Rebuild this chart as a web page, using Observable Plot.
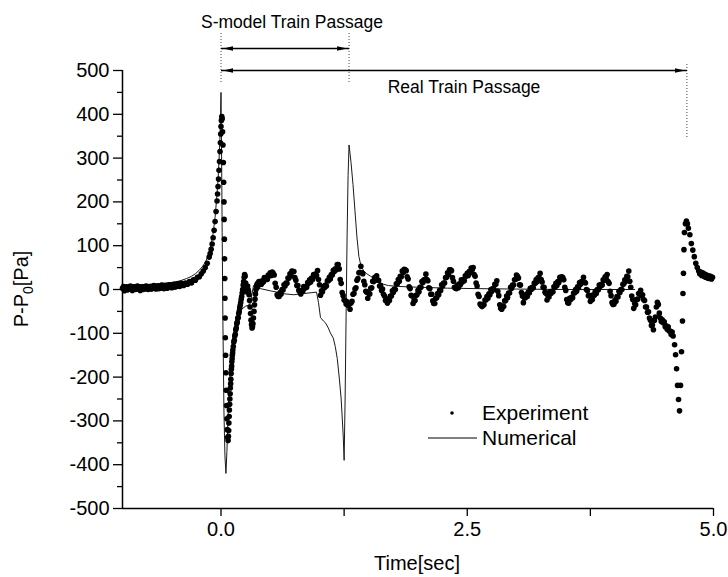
<!DOCTYPE html>
<html><head><meta charset="utf-8">
<script src="https://cdn.jsdelivr.net/npm/d3@7"></script>
<script src="https://cdn.jsdelivr.net/npm/@observablehq/plot@0.6"></script>
<style>body{margin:0;background:#fff}</style>
</head><body><div id="chart"></div>
<script>
// ---- data: time [s], P-P0 [Pa] ----
// Experiment, before and around the train-nose passage: [time, pressure]
const expEarly = [
[-1.00,3],[-0.99,7],[-0.98,-3],[-0.97,4],[-0.96,6],[-0.95,-1],[-0.94,0],[-0.93,6],[-0.92,8],[-0.91,2],[-0.90,-2],[-0.89,6],
[-0.88,5],[-0.87,0],[-0.86,1],[-0.85,8],[-0.84,7],[-0.83,1],[-0.82,-2],[-0.81,5],[-0.80,6],[-0.79,0],[-0.78,1],[-0.77,7],
[-0.76,8],[-0.75,2],[-0.74,0],[-0.73,6],[-0.72,7],[-0.71,1],[-0.70,2],[-0.69,8],[-0.68,9],[-0.67,3],[-0.66,1],[-0.65,7],
[-0.64,8],[-0.63,2],[-0.62,3],[-0.61,9],[-0.60,10],[-0.59,4],[-0.58,2],[-0.57,8],[-0.56,9],[-0.55,3],[-0.54,4],[-0.53,10],
[-0.52,11],[-0.51,5],[-0.50,4],[-0.49,10],[-0.48,12],[-0.47,6],[-0.46,6],[-0.45,12],[-0.44,13],[-0.43,8],[-0.42,7],[-0.41,13],
[-0.40,14],[-0.38,9],[-0.36,15],[-0.34,12],[-0.32,18],[-0.30,15],[-0.28,22],[-0.26,21],[-0.24,28],[-0.22,29],
[-0.20,36],[-0.18,42],[-0.16,50],[-0.14,60],[-0.12,74],[-0.11,82],[-0.10,92],[-0.09,104],[-0.08,118],[-0.07,135],
[-0.06,155],[-0.05,178],[-0.04,202],[-0.035,218],[-0.03,235],[-0.025,252],[-0.02,272],[-0.015,292],[-0.01,315],[-0.006,335],
[-0.003,355],[0.0,372],[0.004,386],[0.008,395],[0.012,390],[0.016,360],[0.02,330],[0.024,290],[0.027,245],[0.03,200],
[0.032,160],[0.034,115],[0.036,70],[0.038,25],[0.04,-20],[0.042,-65],[0.044,-110],[0.047,-150],[0.05,-190],[0.053,-230],
[0.056,-265],[0.06,-295],[0.064,-320],[0.068,-338],[0.072,-345],[0.075,-335],[0.078,-322],[0.08,-305],[0.083,-290],[0.085,-275],
[0.088,-262],[0.09,-250],[0.093,-238],[0.095,-225],[0.098,-215],[0.10,-205],[0.103,-192],[0.105,-182],[0.108,-175],[0.11,-165],
[0.113,-158],[0.115,-150],[0.118,-145],[0.12,-138],[0.125,-130],[0.13,-120],[0.135,-116],[0.14,-106],[0.145,-102],[0.15,-92],
[0.155,-88],[0.16,-78],[0.165,-75],[0.17,-66],[0.175,-64],[0.18,-55],[0.185,-50],[0.19,-42],[0.195,-36],[0.20,-30],
[0.205,-22],[0.21,-16],[0.215,-8],[0.22,0],[0.225,10],[0.23,18],[0.235,28],[0.24,34],[0.245,30],[0.25,15],
[0.255,5],[0.26,-5],[0.265,0],[0.27,8],[0.275,0],[0.28,-5],[0.285,-12],[0.29,-25],[0.295,-40],[0.30,-55],
[0.305,-70],[0.31,-80],[0.315,-88],[0.32,-85],[0.325,-78],[0.33,-65],[0.335,-50],[0.34,-35],[0.345,-22],[0.35,-10],
[0.355,0],[0.36,8],[0.365,12],[0.37,5],[0.375,15],[0.38,10],[0.385,18],[0.39,12],[0.395,16]
];
// Experiment, evenly sampled stretch during the passage (start 0.40 s, every 0.01 s)
const expDenseStart = 0.40, expDenseStep = 0.01;
const expDense = [
18,12,20,17,27,22,26,23,33,31, 38,32,40,37,33,14,5,-12,-16,-16,
-7,-10,0,-1,11,8,15,14,26,26, 36,32,42,41,41,27,21,9,9,-2,
-5,-10,-2,-4,7,3,7,5,16,14, 22,17,26,23,34,30,35,32,43,23,
11,-13,-3,-5,7,4,10,8,20,20, 28,24,34,33,44,41,47,45,57,57,
47,23,14,-7,-14,-24,-25,-33,-28,-36, -34,-45,-31,-27,-11,-9,1,4,21,25,
38,39,53,38,36,19,11,-4,-6,-20, -9,-10,3,4,19,18,27,28,31,21,
21,8,9,-2,1,-11,-15,-25,-22,-31, -22,-25,-15,-15,-3,-6,1,0,13,13,
23,19,30,29,42,39,46,45,43,29, 24,6,2,-13,-15,-32,-25,-25,-13,-12,
-2,-5,5,5,18,16,22,22,35,23, 20,4,2,-11,-11,-26,-32,-32,-20,-19,
-9,-12,-2,-2,11,8,15,15,27,28, 38,35,45,45,43,27,19,5,3,2,
10,4,13,11,22,17,22,20,31,30, 37,32,41,39,49,45,50,34,30,15,
8,-11,-16,-33,-36,-39,-34,-35,-24,-24, -16,-20,-10,-12,0,-4,2,1,12,12,
20,-4,-14,-35,-43,-45,-38,-39,-26,-25, -15,-18,-8,-8,5,3,10,10,22,23,
33,30,26,11,10,-7,-15,-30,-19,-19, -11,-16,-6,-8,3,0,5,4,15,14,
23,18,27,26,37,23,17,5,5,-6, -9,-24,-15,-17,-5,-9,-4,-5,6,5,
14,9,18,16,28,24,29,27,22,5, -2,-23,-30,-31,-20,-23,-18,-19,-8,-8,
0,-4,6,4,16,12,18,16,28,17, 15,0,-2,-14,-13,-27,-22,-23,-12,-13,
-4,-9,0,-1,10,7,12,10,22,21, 29,25,34,18,14,-4,-14,-30,-34,-33,
-24,-27,-16,-17,-4,-7,0,0,12,13, 22,19,30,29,42,19,5,-15,-23,-43,
-32,-35,-23,-22,-9,-10,-2,-14,-12,-23, -25,-40,-40,-52,-51,-65,-70,-82,-81,-92,
-71,-63,-40,-29,-34,-54,-65,-73,-69,-76, -74,-85,-83,-91,-85,-95,-95,-103,-97,-106
];
// Experiment, train-tail passage: [time, pressure]
const expLate = [
[4.605,-126],[4.615,-149],[4.625,-181],[4.635,-219],[4.645,-251],[4.655,-277],[4.665,-219],[4.675,-142],[4.685,-72],[4.69,-9],
[4.695,37],[4.70,91],[4.705,130],[4.715,150],[4.725,156],[4.735,150],[4.745,140],[4.76,125],[4.775,105],[4.79,90],
[4.805,75],[4.82,60],[4.835,50],[4.85,42],[4.86,36],[4.87,40],[4.88,32],[4.89,38],[4.90,30],[4.91,35],
[4.92,28],[4.93,33],[4.94,26],[4.95,31],[4.96,25],[4.97,30],[4.98,24],[4.99,28]
];
// Numerical (S-model simulation): [time, pressure]
const numerical = [
[-1.0,9],[-0.9,10],[-0.8,11],[-0.7,12],[-0.6,14],[-0.5,16],[-0.45,18],[-0.4,21],[-0.35,25],[-0.3,30],
[-0.26,36],[-0.22,44],[-0.19,52],[-0.16,62],[-0.14,72],[-0.12,86],[-0.10,103],[-0.08,128],[-0.06,165],[-0.045,205],
[-0.03,250],[-0.02,295],[-0.01,350],[-0.004,405],[0.0,450],[0.005,330],[0.012,130],[0.02,-90],[0.03,-280],[0.04,-380],
[0.05,-420],[0.06,-370],[0.07,-300],[0.085,-220],[0.10,-160],[0.12,-110],[0.15,-75],[0.18,-60],[0.21,-45],[0.25,-38],
[0.28,-36],[0.30,-30],[0.315,-10],[0.33,9],[0.36,5],[0.40,2],[0.50,-3],[0.57,-6],[0.65,-10],[0.74,-12],
[0.85,-9],[0.97,-6],[0.99,-30],[1.01,-64],[1.04,-72],[1.06,-76],[1.09,-88],[1.11,-99],[1.14,-111],[1.16,-130],
[1.18,-157],[1.20,-200],[1.22,-250],[1.24,-330],[1.25,-390],[1.26,-250],[1.27,-60],[1.28,120],[1.29,260],[1.30,330],
[1.32,290],[1.34,240],[1.36,180],[1.38,120],[1.40,75],[1.42,55],[1.45,42],[1.48,36],[1.52,30],[1.55,26],
[1.60,18],[1.65,12],[1.70,9],[1.80,7],[1.90,6],[2.03,5],[2.3,3],[2.6,2],[3.0,1],[3.5,0],[4.2,0]
];
const xMajorTicks = [0, 2.5, 5];
const xMinorTicks = [1.25, 3.75];
const yMajorTicks = [-500,-400,-300,-200,-100,0,100,200,300,400,500];
const yMinorTicks = [-450,-350,-250,-150,-50,50,150,250,350,450];
const passageStart = 0;      // train nose arrival
const sModelEnd = 1.3;       // end of S-model train passage
const realEnd = 4.73;        // end of real train passage
const seriesNames = ["Experiment", "Numerical"];

const experiment = [
  ...expEarly,
  ...expDense.map((p, i) => [expDenseStart + i * expDenseStep, p]),
  ...expLate
];

// ---- layout ----
const W = 728, H = 577, mL = 122, mR = 15, mT = 70, mB = 69;
const yPx = d3.scaleLinear([-500, 500], [H - mB, mT]); // only to place annotations above the frame
const font = "'Liberation Sans', Arial, Helvetica, sans-serif";

const arrows = [
  {t0: passageStart, t1: sModelEnd, y: yPx.invert(48)},
  {t0: passageStart, t1: realEnd, y: yPx.invert(70)}
];
const guides = [
  {t: passageStart, y1: yPx.invert(33), y2: yPx.invert(83)},
  {t: sModelEnd, y1: yPx.invert(33), y2: yPx.invert(83)},
  {t: realEnd, y1: yPx.invert(64), y2: yPx.invert(139)}
];

const plot = Plot.plot({
  width: W, height: H,
  marginLeft: mL, marginRight: mR, marginTop: mT, marginBottom: mB,
  style: {fontFamily: font, color: "#000", background: "#fff"},
  x: {domain: [-1, 5]},
  y: {domain: [-500, 500]},
  marks: [
    Plot.axisY({ticks: yMinorTicks, tickSize: 5, tickFormat: () => "", label: null, strokeWidth: 1.3}),
    Plot.axisY({ticks: yMajorTicks, tickSize: 9, tickPadding: 4, fontSize: 20, tickFormat: d => `${d}`, label: null, strokeWidth: 1.3}),
    Plot.axisX({ticks: xMinorTicks, tickSize: 8, tickFormat: () => "", label: null, strokeWidth: 1.3}),
    Plot.axisX({ticks: xMajorTicks, tickSize: 8, tickPadding: 5, fontSize: 20, tickFormat: d => d.toFixed(1), label: null, strokeWidth: 1.3}),
    Plot.ruleX([-1], {stroke: "#000", strokeWidth: 1.5}),
    Plot.ruleY([-500], {stroke: "#000", strokeWidth: 1.5}),
    Plot.line(numerical, {x: d => d[0], y: d => d[1], stroke: "#1a1a1a", strokeWidth: 1}),
    Plot.dot(experiment, {x: d => d[0], y: d => d[1], r: 2.8, fill: "#000", stroke: null}),
    Plot.ruleX(guides, {x: "t", y1: "y1", y2: "y2", stroke: "#444", strokeWidth: 1, strokeDasharray: "1,2"}),
    Plot.link(arrows, {x1: "t0", x2: "t1", y1: "y", y2: "y", stroke: "#000", strokeWidth: 1.3})
  ]
});

const svg = d3.select(plot);
svg.style("font-family", font);
// filled arrow heads on both ends of the passage arrows
const defs = svg.append("defs");
defs.append("marker")
  .attr("id", "ahead").attr("viewBox", "0 0 12 6").attr("refX", 12).attr("refY", 3)
  .attr("markerWidth", 12).attr("markerHeight", 6).attr("markerUnits", "userSpaceOnUse")
  .attr("orient", "auto-start-reverse")
  .append("path").attr("d", "M0,0.7L10,3L0,5.3Z").attr("fill", "#000");
svg.selectAll('g[aria-label="link"] path')
  .attr("marker-start", "url(#ahead)").attr("marker-end", "url(#ahead)");

// annotation texts
svg.append("text").attr("x", 292).attr("y", 28).attr("text-anchor", "middle")
  .style("font-size", "17.5px").text("S-model Train Passage");
svg.append("text").attr("x", 464).attr("y", 93).attr("text-anchor", "middle")
  .style("font-size", "17.5px").text("Real Train Passage");

// axis titles
svg.append("text").attr("x", 417).attr("y", 570).attr("text-anchor", "middle")
  .style("font-size", "20px").text("Time[sec]");
const yl = svg.append("text").attr("transform", "translate(28,289) rotate(-90)")
  .attr("text-anchor", "middle").style("font-size", "20px");
yl.append("tspan").text("P-P");
yl.append("tspan").attr("dy", 5).style("font-size", "14px").text("0");
yl.append("tspan").attr("dy", -5).text("[Pa]");

// legend
const lg = svg.append("g").attr("text-anchor", "start");
lg.append("circle").attr("cx", 452).attr("cy", 413).attr("r", 1.8).attr("fill", "#000");
lg.append("text").attr("x", 482).attr("y", 420).attr("text-anchor", "start").style("font-size", "21px").text(seriesNames[0]);
lg.append("line").attr("x1", 428).attr("x2", 477).attr("y1", 438).attr("y2", 438)
  .attr("stroke", "#000").attr("stroke-width", 1);
lg.append("text").attr("x", 482).attr("y", 445).attr("text-anchor", "start").style("font-size", "21px").text(seriesNames[1]);

document.getElementById("chart").appendChild(plot);
</script></body></html>
